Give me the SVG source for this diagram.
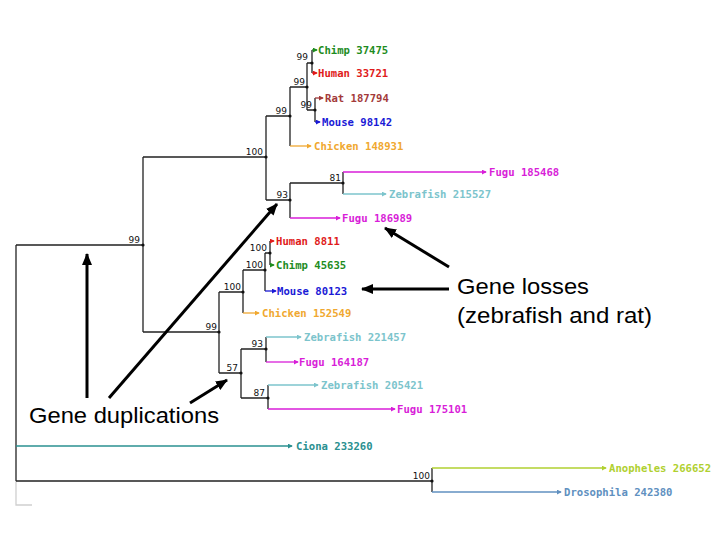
<svg xmlns="http://www.w3.org/2000/svg" width="720" height="540" viewBox="0 0 720 540">
<style>
.t{fill:none;stroke:#222;stroke-width:1.3}
.lf{fill:none;stroke-width:1.3}
.bs{font-family:"DejaVu Sans",sans-serif;font-size:9px;fill:#111;text-anchor:end}
.lb{font-family:"DejaVu Sans Mono","Liberation Mono",monospace;font-size:10.6px;font-weight:bold}
.ann{font-family:"Liberation Sans",Arial,sans-serif;font-size:22px;fill:#000}
.ar{fill:none;stroke:#000;stroke-width:3}
.green{stroke:#1e8c1e;fill:#1e8c1e}
.red{stroke:#e01b1b;fill:#e01b1b}
.brown{stroke:#a33a3a;fill:#a33a3a}
.blue{stroke:#1a1ad6;fill:#1a1ad6}
.orange{stroke:#f0a830;fill:#f0a830}
.mag{stroke:#d81ed8;fill:#d81ed8}
.zeb{stroke:#7cc4cc;fill:#7cc4cc}
.cio{stroke:#2a9090;fill:#2a9090}
.ano{stroke:#b0d030;fill:#b0d030}
.dro{stroke:#6090c0;fill:#6090c0}
text.green,text.red,text.brown,text.blue,text.orange,text.mag,text.zeb,text.cio,text.ano,text.dro{stroke:none}
</style>
<defs>
<marker id="big" viewBox="0 0 12 10" refX="11" refY="5" markerWidth="12" markerHeight="10" markerUnits="userSpaceOnUse" orient="auto"><path d="M0,0 L12,5 L0,10 Z" fill="#000"/></marker>
<marker id="m-green" viewBox="0 0 6 6" refX="5" refY="3" markerWidth="5" markerHeight="5" markerUnits="userSpaceOnUse" orient="auto"><path d="M0,0 L6,3 L0,6 Z" fill="#1e8c1e"/></marker>
<marker id="m-red" viewBox="0 0 6 6" refX="5" refY="3" markerWidth="5" markerHeight="5" markerUnits="userSpaceOnUse" orient="auto"><path d="M0,0 L6,3 L0,6 Z" fill="#e01b1b"/></marker>
<marker id="m-brown" viewBox="0 0 6 6" refX="5" refY="3" markerWidth="5" markerHeight="5" markerUnits="userSpaceOnUse" orient="auto"><path d="M0,0 L6,3 L0,6 Z" fill="#a33a3a"/></marker>
<marker id="m-blue" viewBox="0 0 6 6" refX="5" refY="3" markerWidth="5" markerHeight="5" markerUnits="userSpaceOnUse" orient="auto"><path d="M0,0 L6,3 L0,6 Z" fill="#1a1ad6"/></marker>
<marker id="m-orange" viewBox="0 0 6 6" refX="5" refY="3" markerWidth="5" markerHeight="5" markerUnits="userSpaceOnUse" orient="auto"><path d="M0,0 L6,3 L0,6 Z" fill="#f0a830"/></marker>
<marker id="m-mag" viewBox="0 0 6 6" refX="5" refY="3" markerWidth="5" markerHeight="5" markerUnits="userSpaceOnUse" orient="auto"><path d="M0,0 L6,3 L0,6 Z" fill="#d81ed8"/></marker>
<marker id="m-zeb" viewBox="0 0 6 6" refX="5" refY="3" markerWidth="5" markerHeight="5" markerUnits="userSpaceOnUse" orient="auto"><path d="M0,0 L6,3 L0,6 Z" fill="#7cc4cc"/></marker>
<marker id="m-cio" viewBox="0 0 6 6" refX="5" refY="3" markerWidth="5" markerHeight="5" markerUnits="userSpaceOnUse" orient="auto"><path d="M0,0 L6,3 L0,6 Z" fill="#2a9090"/></marker>
<marker id="m-ano" viewBox="0 0 6 6" refX="5" refY="3" markerWidth="5" markerHeight="5" markerUnits="userSpaceOnUse" orient="auto"><path d="M0,0 L6,3 L0,6 Z" fill="#b0d030"/></marker>
<marker id="m-dro" viewBox="0 0 6 6" refX="5" refY="3" markerWidth="5" markerHeight="5" markerUnits="userSpaceOnUse" orient="auto"><path d="M0,0 L6,3 L0,6 Z" fill="#6090c0"/></marker>
</defs>
<rect width="720" height="540" fill="#fff"/>

<g id="connectors">
<!-- gray artifact -->
<path d="M16,481 V505 H32" fill="none" stroke="#cfcfcf" stroke-width="1.3"/>
<!-- internal branches -->
<path class="t" d="M16,245 V481"/>
<path class="t" d="M16,245 H143 M143,157 V332"/>
<path class="t" d="M143,157 H266 M266,116 V200"/>
<path class="t" d="M266,116 H290 M290,87 V146"/>
<path class="t" d="M290,87 H307 M307,63 V110"/>
<path class="t" d="M307,63 H312 M312,50 V73"/>
<path class="t" d="M307,110 H315 M315,98 V122"/>
<path class="t" d="M266,200 H290 M290,183 V218"/>
<path class="t" d="M290,183 H343 M343,172 V194"/>
<path class="t" d="M143,332 H219 M219,292 V373"/>
<path class="t" d="M219,292 H243 M243,270 V313"/>
<path class="t" d="M243,270 H265 M265,253 V291"/>
<path class="t" d="M265,253 H270 M270,241 V265"/>
<path class="t" d="M219,373 H241 M241,349 V398"/>
<path class="t" d="M241,349 H266 M266,337 V362"/>
<path class="t" d="M241,398 H268 M268,385 V409"/>
<path class="t" d="M16,481 H432 M432,468 V492" stroke-width="1.6" stroke="#333"/>
<!-- leaf branches -->
<path class="lf green" d="M312,50 H317" marker-end="url(#m-green)"/>
<path class="lf red" d="M312,73 H317" marker-end="url(#m-red)"/>
<path class="lf brown" d="M315,98 H323" marker-end="url(#m-brown)"/>
<path class="lf blue" d="M315,122 H320" marker-end="url(#m-blue)"/>
<path class="lf orange" d="M290,146 H311" marker-end="url(#m-orange)"/>
<path class="lf mag" d="M343,172 H486" marker-end="url(#m-mag)"/>
<path class="lf zeb" d="M343,194 H386" marker-end="url(#m-zeb)"/>
<path class="lf mag" d="M290,218 H340" marker-end="url(#m-mag)"/>
<path class="lf red" d="M270,241 H274" marker-end="url(#m-red)"/>
<path class="lf green" d="M270,265 H274" marker-end="url(#m-green)"/>
<path class="lf blue" d="M265,291 H276" marker-end="url(#m-blue)"/>
<path class="lf orange" d="M243,313 H259" marker-end="url(#m-orange)"/>
<path class="lf zeb" d="M266,337 H301" marker-end="url(#m-zeb)"/>
<path class="lf mag" d="M266,362 H298" marker-end="url(#m-mag)"/>
<path class="lf zeb" d="M268,385 H318" marker-end="url(#m-zeb)"/>
<path class="lf mag" d="M268,409 H395" marker-end="url(#m-mag)"/>
<path class="lf cio" d="M16,446 H292" marker-end="url(#m-cio)"/>
<path class="lf ano" d="M432,468 H606" marker-end="url(#m-ano)"/>
<path class="lf dro" d="M432,492 H561" marker-end="url(#m-dro)"/>
<!-- node dots -->
<g fill="#111">
<circle cx="143" cy="245" r="1.6"/><circle cx="266" cy="157" r="1.6"/><circle cx="290" cy="116" r="1.6"/>
<circle cx="307" cy="87" r="1.6"/><circle cx="312" cy="63" r="1.6"/><circle cx="315" cy="110" r="1.6"/>
<circle cx="290" cy="200" r="1.6"/><circle cx="343" cy="183" r="1.6"/><circle cx="219" cy="332" r="1.6"/>
<circle cx="243" cy="292" r="1.6"/><circle cx="265" cy="270" r="1.6"/><circle cx="270" cy="253" r="1.6"/>
<circle cx="241" cy="373" r="1.6"/><circle cx="266" cy="349" r="1.6"/><circle cx="268" cy="398" r="1.6"/>
<circle cx="432" cy="481" r="1.6"/>
</g>
<!-- annotation arrows -->
<path class="ar" d="M87,398 V254" marker-end="url(#big)"/>
<path class="ar" d="M109,398 L277,204" marker-end="url(#big)"/>
<path class="ar" d="M190,403 L227,380" marker-end="url(#big)"/>
<path class="ar" d="M449,267 L385,228" marker-end="url(#big)"/>
<path class="ar" d="M449,289 H362" marker-end="url(#big)"/>
</g>

<g id="bootstrap">
<text class="bs" x="140" y="243">99</text>
<text class="bs" x="263" y="155">100</text>
<text class="bs" x="287" y="114">99</text>
<text class="bs" x="305" y="85">99</text>
<text class="bs" x="308" y="60">99</text>
<text class="bs" x="312" y="108">99</text>
<text class="bs" x="288" y="198">93</text>
<text class="bs" x="341" y="181">81</text>
<text class="bs" x="217" y="330">99</text>
<text class="bs" x="241" y="290">100</text>
<text class="bs" x="263" y="268">100</text>
<text class="bs" x="267" y="251">100</text>
<text class="bs" x="238" y="371">57</text>
<text class="bs" x="263" y="347">93</text>
<text class="bs" x="265" y="396">87</text>
<text class="bs" x="430" y="479">100</text>
</g>

<g id="leaves">
<text id="n-chimp1" class="lb green" x="318" y="54">Chimp 37475</text>
<text id="n-human1" class="lb red" x="318" y="77">Human 33721</text>
<text id="n-rat" class="lb brown" x="325" y="102">Rat 187794</text>
<text id="n-mouse1" class="lb blue" x="322" y="126">Mouse 98142</text>
<text id="n-chicken1" class="lb orange" x="314" y="150">Chicken 148931</text>
<text id="n-fugu1" class="lb mag" x="489" y="176">Fugu 185468</text>
<text id="n-zeb1" class="lb zeb" x="389" y="198">Zebrafish 215527</text>
<text id="n-fugu2" class="lb mag" x="342" y="222">Fugu 186989</text>
<text id="n-human2" class="lb red" x="276" y="245">Human 8811</text>
<text id="n-chimp2" class="lb green" x="276" y="269">Chimp 45635</text>
<text id="n-mouse2" class="lb blue" x="277" y="295">Mouse 80123</text>
<text id="n-chicken2" class="lb orange" x="262" y="317">Chicken 152549</text>
<text id="n-zeb2" class="lb zeb" x="304" y="341">Zebrafish 221457</text>
<text id="n-fugu3" class="lb mag" x="299" y="366">Fugu 164187</text>
<text id="n-zeb3" class="lb zeb" x="321" y="389">Zebrafish 205421</text>
<text id="n-fugu4" class="lb mag" x="397" y="413">Fugu 175101</text>
<text id="n-ciona" class="lb cio" x="296" y="450">Ciona 233260</text>
<text id="n-anoph" class="lb ano" x="609" y="472">Anopheles 266652</text>
<text id="n-droso" class="lb dro" x="564" y="496">Drosophila 242380</text>
</g>

<g id="annotations">
<text class="ann" x="29" y="423" textLength="190" lengthAdjust="spacingAndGlyphs">Gene duplications</text>
<text class="ann" x="457" y="294" textLength="132" lengthAdjust="spacingAndGlyphs">Gene losses</text>
<text class="ann" x="457" y="323" textLength="195" lengthAdjust="spacingAndGlyphs">(zebrafish and rat)</text>
</g>
</svg>
